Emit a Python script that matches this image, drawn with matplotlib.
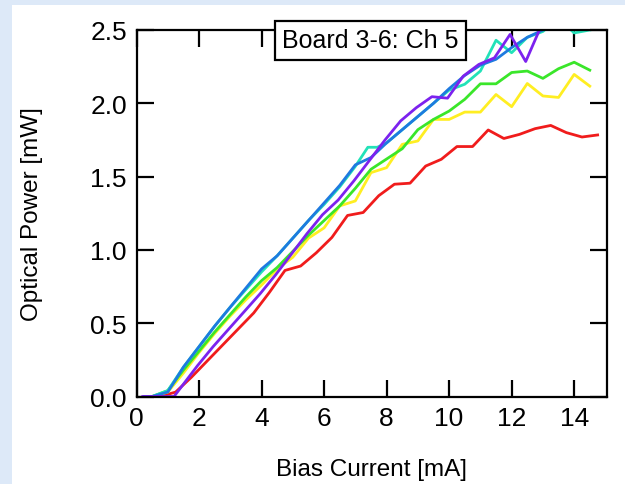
import matplotlib
matplotlib.use("Agg")
import matplotlib.pyplot as plt
from matplotlib.patches import Rectangle

plt.rcParams['font.family'] = ['Liberation Sans', 'DejaVu Sans']

# bias current [mA] and optical power [mW] per channel trace
red_x = [0.25, 0.75, 1.25, 1.75, 2.25, 2.75, 3.25, 3.75, 4.25, 4.75, 5.25, 5.75, 6.25, 6.75, 7.25,
         7.75, 8.25, 8.75, 9.25, 9.75, 10.25, 10.75, 11.25, 11.75, 12.25, 12.75, 13.25, 13.75, 14.25, 14.75]
red_y = [0, 0, 0.03, 0.13, 0.24, 0.35, 0.46, 0.57, 0.71, 0.86, 0.89, 0.98, 1.085, 1.235, 1.255,
         1.37, 1.448, 1.455, 1.572, 1.618, 1.705, 1.705, 1.818, 1.76, 1.788, 1.827, 1.849, 1.80, 1.77, 1.784]

bias_ma = [0.25, 0.5, 1.0, 1.5, 2.0, 2.5, 3.0, 3.5, 4.0, 4.5, 5.0, 5.5, 6.0, 6.5, 7.0,
           7.5, 8.0, 8.5, 9.0, 9.5, 10.0, 10.5, 11.0, 11.5, 12.0, 12.5, 13.0, 13.5, 14.0, 14.5]
yellow_y = [0, 0, 0.03, 0.16, 0.30, 0.43, 0.55, 0.66, 0.76, 0.87, 0.95, 1.08, 1.15, 1.30, 1.334,
            1.527, 1.561, 1.72, 1.743, 1.89, 1.89, 1.94, 1.94, 2.06, 1.977, 2.135, 2.05, 2.04, 2.197, 2.117]
green_y = [0, 0, 0.04, 0.18, 0.31, 0.44, 0.56, 0.68, 0.79, 0.88, 0.99, 1.10, 1.20, 1.30, 1.42,
           1.55, 1.62, 1.69, 1.82, 1.89, 1.947, 2.027, 2.133, 2.133, 2.21, 2.22, 2.17, 2.236, 2.28, 2.226]
blue_y = [0, 0, 0.03, 0.20, 0.34, 0.48, 0.61, 0.74, 0.87, 0.96, 1.08, 1.20, 1.32, 1.44, 1.58,
          1.63, 1.73, 1.82, 1.91, 2.00, 2.10, 2.19, 2.26, 2.30, 2.38, 2.45, 2.50, 2.55]

cyan_x = [0.25, 0.5, 1.0, 1.5, 2.0, 2.5, 3.0, 3.5, 4.0, 4.5, 5.0, 5.5, 6.0, 6.5, 7.0, 7.4, 7.7,
          8.0, 8.5, 9.0, 9.5, 10.0, 10.5, 11.0, 11.5, 12.0, 12.5, 13.0, 13.5, 14.0, 14.5]
cyan_y = [0, 0, 0.04, 0.20, 0.34, 0.48, 0.61, 0.73, 0.85, 0.96, 1.08, 1.20, 1.31, 1.43, 1.57, 1.70, 1.70,
          1.73, 1.82, 1.91, 2.00, 2.09, 2.13, 2.22, 2.43, 2.345, 2.45, 2.49, 2.58, 2.48, 2.50]

purple_x = [0.2, 0.7, 1.2, 1.95, 2.45, 2.95, 3.45, 3.95, 4.45, 4.95, 5.45, 5.95, 6.45, 6.95, 7.45,
            7.95, 8.45, 8.95, 9.45, 9.95, 10.45, 10.95, 11.45, 11.95, 12.45, 12.95]
purple_y = [0, 0, 0, 0.21, 0.34, 0.46, 0.58, 0.70, 0.83, 0.97, 1.11, 1.24, 1.34, 1.47, 1.61,
            1.75, 1.88, 1.97, 2.045, 2.035, 2.185, 2.265, 2.31, 2.47, 2.285, 2.53]

fig = plt.figure(figsize=(6.25, 4.85), dpi=100)
fig.patch.set_facecolor('#dde9f8')
# white panel (light blue margin on the left and top)
fig.patches.append(Rectangle((12 / 625, 0), 1, 1 - 6 / 485, transform=fig.transFigure,
                             facecolor='white', edgecolor='none', zorder=-1))

ax = fig.add_axes([0.2184, 0.1804, 0.7528, 0.7557])
ax.set_facecolor('white')

lw = 2.0
ax.plot(red_x, red_y, color='#f01c1c', lw=lw)
ax.plot(bias_ma, yellow_y, color='#ffee22', lw=lw)
ax.plot(bias_ma, green_y, color='#3ae62a', lw=lw)
ax.plot(cyan_x, cyan_y, color='#22e2b8', lw=lw)
ax.plot(bias_ma[:len(blue_y)], blue_y, color='#1e7ae0', lw=lw)
ax.plot(purple_x, purple_y, color='#7c22ee', lw=lw)

ax.set_xlim(0, 15.05)
ax.set_ylim(0, 2.5)
ax.set_xticks([0, 2, 4, 6, 8, 10, 12, 14])
ax.set_yticks([0.0, 0.5, 1.0, 1.5, 2.0, 2.5])
ax.set_yticklabels(['0.0', '0.5', '1.0', '1.5', '2.0', '2.5'])

for s in ax.spines.values():
    s.set_linewidth(1.6)
ax.tick_params(direction='in', length=12, width=1.6, top=True, right=True,
               labelsize=19, pad=7)

ax.set_xlabel('Bias Current [mA]', fontsize=17.5)
ax.set_ylabel('Optical Power [mW]', fontsize=17.5)
ax.xaxis.label.set_va('center')
ax.yaxis.label.set_va('center')
ax.xaxis.set_label_coords(0.5, -0.198)
ax.yaxis.set_label_coords(-0.222, 0.5)

ax.text(7.49, 2.43, 'Board 3-6: Ch 5', fontsize=18, ha='center', va='center', zorder=10,
        clip_on=False,
        bbox=dict(boxstyle='square,pad=0.3', facecolor='white', edgecolor='black', linewidth=1.6))

fig.savefig('out.png', dpi=100, facecolor=fig.get_facecolor())
